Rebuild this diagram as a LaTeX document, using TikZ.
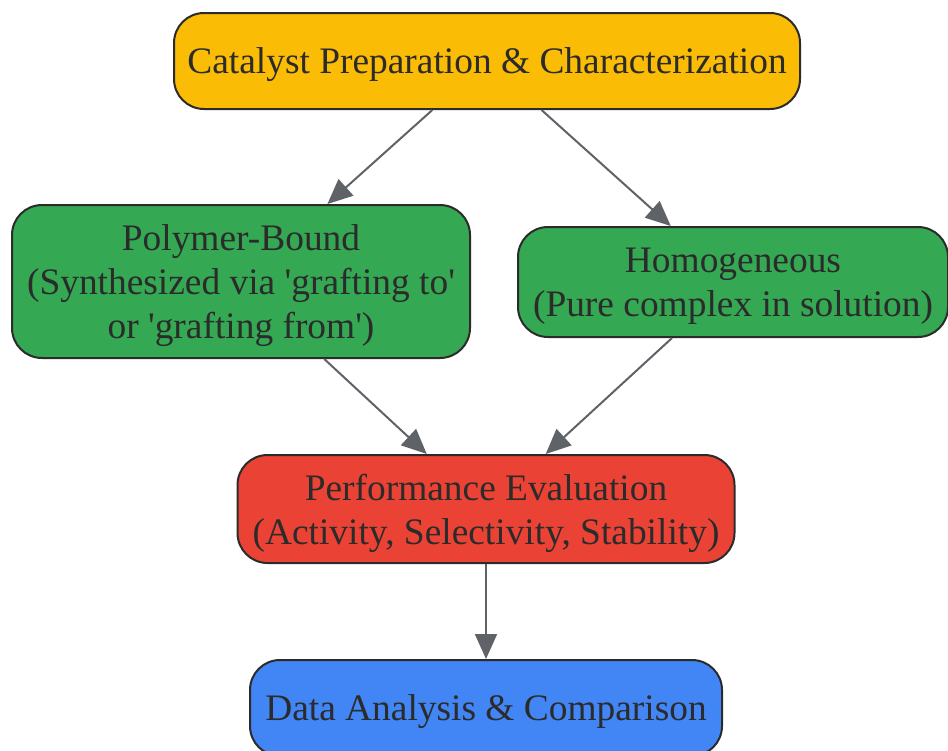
\documentclass[tikz,border=0pt]{standalone}
\usepackage{fontspec}
\setmainfont{Liberation Serif}
\usetikzlibrary{arrows.meta}

\definecolor{prepyellow}{HTML}{FBBC05}
\definecolor{catgreen}{HTML}{34A853}
\definecolor{evalred}{HTML}{EA4335}
\definecolor{dataBlue}{HTML}{4285F4}
\definecolor{edgegray}{HTML}{5F6368}
\definecolor{textgray}{HTML}{2B2B2B}

\tikzset{
  stagebox/.style={draw=textgray, line width=2pt, rounded corners=30pt, align=center,
    text=textgray, font=\fontsize{37.4}{44}\selectfont, inner sep=0pt, text depth=-7pt},
  flow/.style={-{Triangle[length=25pt,width=22pt]}, draw=edgegray, line width=2pt}
}

\begin{document}
\begin{tikzpicture}[x=1pt, y=-1pt]
        \useasboundingbox (0,0) rectangle (948,750);
        \node[stagebox, fill=prepyellow, minimum width=626pt, minimum height=96pt] (prep) at (487,61) {Catalyst Preparation \& Characterization};
        \node[stagebox, fill=catgreen, minimum width=458pt, minimum height=153pt] (polymer) at (241,281.5) {Polymer-Bound\\(Synthesized via \textquotesingle grafting to\textquotesingle\\or \textquotesingle grafting from\textquotesingle)};
        \node[stagebox, fill=catgreen, minimum width=430pt, minimum height=110pt] (homog) at (733,282) {Homogeneous\\(Pure complex in solution)};
        \node[stagebox, fill=evalred, minimum width=497pt, minimum height=108pt] (perf) at (486,509) {Performance Evaluation\\(Activity, Selectivity, Stability)};
        \node[stagebox, fill=dataBlue, minimum width=472pt, minimum height=96pt] (data) at (486,708) {Data Analysis \& Comparison};

        \draw[flow] (prep) -- (polymer);
        \draw[flow] (prep) -- (homog);
        \draw[flow] (polymer) -- (perf);
        \draw[flow] (homog) -- (perf);
        \draw[flow] (perf) -- (data);
    \end{tikzpicture}
\end{document}
